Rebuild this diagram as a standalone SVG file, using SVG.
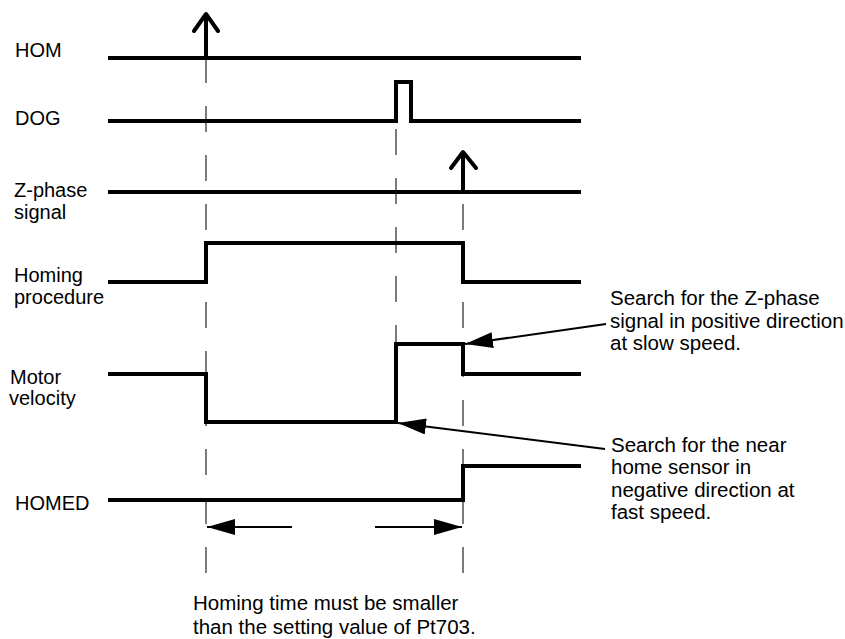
<svg xmlns="http://www.w3.org/2000/svg" width="845" height="639" viewBox="0 0 845 639">
<style>
  text { font-family: "Liberation Sans", Arial, sans-serif; fill: #000; }
  .lbl { font-size: 20px; }
  .ann { font-size: 20.5px; }
  .sig { fill: none; stroke: #000; stroke-width: 4; stroke-linejoin: miter; stroke-linecap: butt; }
  .chev { fill: none; stroke: #000; stroke-width: 4; stroke-linecap: round; stroke-linejoin: round; }
  .dash { fill: none; stroke: #444; stroke-width: 1.4; stroke-dasharray: 26 23; }
  .ptr { fill: none; stroke: #000; stroke-width: 2; }
</style>
<defs>
  <marker id="ah" viewBox="0 0 28 16" refX="28" refY="8" markerWidth="28" markerHeight="16" markerUnits="userSpaceOnUse" orient="auto">
    <path d="M0,0 L28,8 L0,16 Z" fill="#000"/>
  </marker>
</defs>
<rect width="845" height="639" fill="#fff"/>

<g id="dashed-guides">
  <line class="dash" x1="206" y1="57" x2="206" y2="577"/>
  <line class="dash" x1="396" y1="129" x2="396" y2="344"/>
  <line class="dash" x1="463" y1="204" x2="463" y2="577"/>
</g>

<g id="hom">
  <text class="lbl" x="15" y="57">HOM</text>
  <line class="sig" x1="108" y1="58" x2="581" y2="58"/>
  <line class="sig" x1="206" y1="58" x2="206" y2="15"/>
  <polyline class="chev" points="194,31 206,14 218,31"/>
</g>

<g id="dog">
  <text class="lbl" x="15" y="125">DOG</text>
  <polyline class="sig" points="108,121 396,121 396,82 411,82 411,121 581,121"/>
</g>

<g id="zphase">
  <text class="lbl" x="14" y="197">Z-phase</text>
  <text class="lbl" x="14" y="219">signal</text>
  <line class="sig" x1="108" y1="192" x2="581" y2="192"/>
  <line class="sig" x1="463" y1="192" x2="463" y2="153"/>
  <polyline class="chev" points="451,168 463,152 476,168"/>
</g>

<g id="homing-procedure">
  <text class="lbl" x="14" y="282">Homing</text>
  <text class="lbl" x="14" y="304">procedure</text>
  <polyline class="sig" points="108,282 206,282 206,243 463,243 463,282 581,282"/>
</g>

<g id="motor-velocity">
  <text class="lbl" x="10" y="384">Motor</text>
  <text class="lbl" x="9" y="405">velocity</text>
  <polyline class="sig" points="108,374 206,374 206,422 396,422 396,344 463,344 463,374 581,374"/>
</g>

<g id="homed">
  <text class="lbl" x="15" y="510">HOMED</text>
  <polyline class="sig" points="108,500 463,500 463,466 581,466"/>
</g>

<g id="note-slow">
  <text class="ann" x="610" y="305">Search for the Z-phase</text>
  <text class="ann" x="610" y="328">signal in positive direction</text>
  <text class="ann" x="610" y="350">at slow speed.</text>
</g>

<g id="note-fast">
  <text class="ann" x="611" y="452">Search for the near</text>
  <text class="ann" x="611" y="474">home sensor in</text>
  <text class="ann" x="611" y="497">negative direction at</text>
  <text class="ann" x="611" y="519">fast speed.</text>
</g>

<g id="note-time">
  <text class="ann" x="193" y="610">Homing time must be smaller</text>
  <text class="ann" x="193" y="634">than the setting value of Pt703.</text>
</g>

<g id="connectors">
  <line class="ptr" x1="606" y1="324" x2="465" y2="344" marker-end="url(#ah)"/>
  <line class="ptr" x1="605" y1="449" x2="398" y2="423" marker-end="url(#ah)"/>
  <line class="ptr" x1="292" y1="527" x2="207" y2="527" marker-end="url(#ah)"/>
  <line class="ptr" x1="375" y1="527" x2="462" y2="527" marker-end="url(#ah)"/>
</g>
</svg>
